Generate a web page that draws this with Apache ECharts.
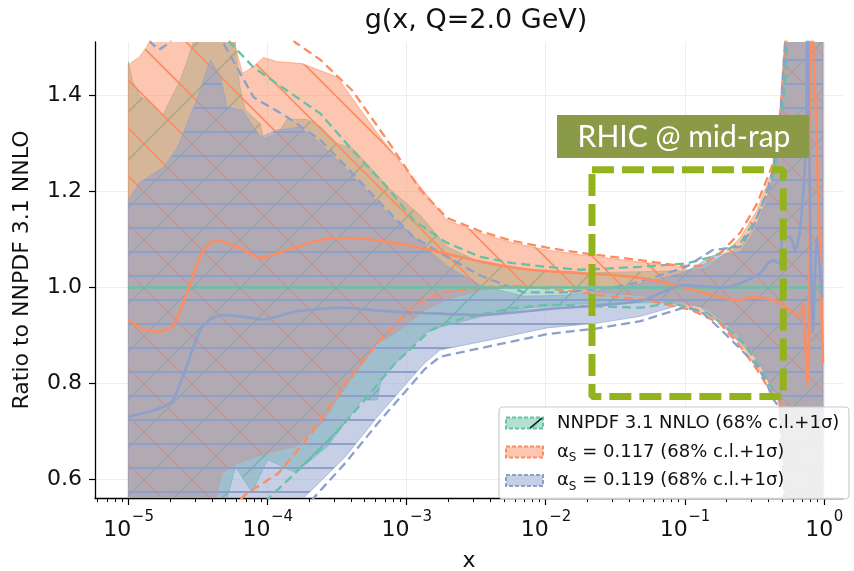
<!DOCTYPE html>
<html>
<head>
<meta charset="utf-8">
<script src="https://cdn.jsdelivr.net/npm/echarts@6.0.0/dist/echarts.min.js"></script>
<style>
  html, body { margin: 0; padding: 0; background: #fff; }
  #main { width: 854px; height: 571px; }
</style>
</head>
<body>
<div id="main"></div>
<script>
// every curve is a list of [log10(x), ratio]
// NNPDF 3.1 NNLO (green)
var nnpdfMid = [[-5, 1.0], [-0.007, 1.0]]
var nnpdfUp = [[-5.00, 1.47], [-4.97, 1.43], [-4.92, 1.40], [-4.87, 1.39], [-4.79, 1.37], [-4.75, 1.36], [-4.70, 1.39], [-4.63, 1.43], [-4.58, 1.47], [-4.51, 1.53], [-4.25, 1.56], [-4.20, 1.42], [-4.16, 1.37], [-4.05, 1.34], [-4.03, 1.31], [-3.93, 1.32], [-3.86, 1.35], [-3.72, 1.35], [-3.62, 1.335], [-3.50, 1.30], [-3.39, 1.29], [-3.26, 1.25], [-3.14, 1.21], [-2.90, 1.15], [-2.71, 1.085], [-2.47, 1.052], [-2.24, 1.04], [-1.99, 1.033], [-1.75, 1.03], [-1.32, 1.033], [-0.99, 1.035], [-0.80, 1.055], [-0.60, 1.085], [-0.48, 1.135], [-0.37, 1.22], [-0.32, 1.29], [-0.28, 1.45], [-0.25, 1.65], [-0.007, 1.65]]
var nnpdfLo = [[-5.00, 0.45], [-4.45, 0.50], [-4.30, 0.55], [-4.23, 0.627], [-4.11, 0.573], [-4.00, 0.642], [-3.80, 0.615], [-3.57, 0.669], [-3.32, 0.766], [-3.21, 0.766], [-3.18, 0.814], [-2.96, 0.876], [-2.87, 0.905], [-2.76, 0.918], [-2.47, 0.939], [-2.11, 0.958], [-1.75, 0.966], [-1.32, 0.968], [-0.99, 0.97], [-0.84, 0.955], [-0.70, 0.925], [-0.58, 0.89], [-0.48, 0.85], [-0.37, 0.79], [-0.32, 0.77], [-0.28, 0.62], [-0.25, 0.45], [-0.007, 0.45]]
var nnpdfUpSig = [[-4.35, 1.60], [-4.27, 1.51], [-4.10, 1.458], [-3.86, 1.41], [-3.62, 1.362], [-3.39, 1.286], [-3.14, 1.209], [-2.95, 1.14], [-2.71, 1.093], [-2.47, 1.064], [-2.24, 1.051], [-1.99, 1.043], [-1.75, 1.037], [-1.32, 1.043], [-0.99, 1.05], [-0.80, 1.064], [-0.60, 1.093], [-0.48, 1.147], [-0.37, 1.23], [-0.32, 1.30], [-0.28, 1.42], [-0.25, 1.62]]
var nnpdfLoSig = [[-4.20, 0.45], [-4.04, 0.548], [-3.80, 0.614], [-3.57, 0.677], [-3.32, 0.76], [-3.09, 0.84], [-2.87, 0.90], [-2.83, 0.911], [-2.60, 0.936], [-2.24, 0.957], [-1.99, 0.964], [-1.52, 0.96], [-1.32, 0.958], [-1.09, 0.968], [-0.84, 0.947], [-0.70, 0.918], [-0.58, 0.885], [-0.48, 0.843], [-0.37, 0.787], [-0.32, 0.766], [-0.28, 0.62], [-0.26, 0.45]]

// alpha_s = 0.117 (orange)
var as117Mid = [[-5.00, 0.932], [-4.90, 0.915], [-4.79, 0.908], [-4.68, 0.92], [-4.58, 0.988], [-4.47, 1.072], [-4.37, 1.099], [-4.22, 1.085], [-4.05, 1.062], [-3.86, 1.078], [-3.62, 1.099], [-3.39, 1.103], [-3.14, 1.095], [-2.90, 1.083], [-2.47, 1.054], [-2.11, 1.037], [-1.75, 1.03], [-1.32, 1.02], [-0.96, 0.997], [-0.75, 0.98], [-0.60, 0.974], [-0.51, 0.98], [-0.37, 0.974], [-0.32, 0.968], [-0.24, 0.953], [-0.17, 0.94], [-0.15, 0.968], [-0.13, 0.86], [-0.115, 0.793], [-0.105, 0.95], [-0.09, 1.60], [-0.007, 0.843]]
var as117Up = [[-5.00, 1.463], [-4.97, 1.47], [-4.92, 1.48], [-4.87, 1.50], [-4.82, 1.53], [-4.70, 1.60], [-4.30, 1.60], [-4.23, 1.50], [-4.18, 1.446], [-4.10, 1.46], [-4.03, 1.479], [-3.93, 1.47], [-3.75, 1.466], [-3.50, 1.438], [-3.21, 1.321], [-2.90, 1.209], [-2.71, 1.14], [-2.47, 1.113], [-2.24, 1.093], [-1.99, 1.078], [-1.75, 1.068], [-1.32, 1.053], [-1.04, 1.043], [-0.96, 1.035], [-0.85, 1.04], [-0.75, 1.06], [-0.60, 1.105], [-0.48, 1.161], [-0.37, 1.244], [-0.32, 1.334], [-0.28, 1.50], [-0.25, 1.65], [-0.007, 1.65]]
var as117Lo = [[-5.00, 0.45], [-4.42, 0.50], [-4.33, 0.614], [-4.21, 0.635], [-4.00, 0.656], [-3.80, 0.669], [-3.61, 0.718], [-3.42, 0.801], [-3.21, 0.884], [-3.08, 0.905], [-2.87, 0.953], [-2.71, 0.975], [-2.47, 0.995], [-2.24, 1.0], [-1.88, 1.0], [-1.63, 0.99], [-1.32, 0.983], [-0.99, 0.96], [-0.75, 0.93], [-0.60, 0.882], [-0.48, 0.835], [-0.37, 0.79], [-0.32, 0.77], [-0.28, 0.65], [-0.25, 0.45], [-0.007, 0.45]]
var as117UpSig = [[-4.00, 1.65], [-3.86, 1.53], [-3.80, 1.51], [-3.62, 1.474], [-3.39, 1.41], [-3.14, 1.307], [-2.90, 1.203], [-2.71, 1.145], [-2.47, 1.117], [-2.24, 1.097], [-1.99, 1.083], [-1.75, 1.072], [-1.32, 1.057], [-1.04, 1.045], [-0.89, 1.045], [-0.75, 1.07], [-0.60, 1.115], [-0.48, 1.175], [-0.37, 1.255], [-0.32, 1.34], [-0.28, 1.50], [-0.25, 1.65]]
var as117LoSig = [[-4.33, 0.45], [-4.21, 0.553], [-4.16, 0.569], [-3.92, 0.614], [-3.68, 0.698], [-3.44, 0.801], [-3.25, 0.87], [-3.19, 0.891], [-2.95, 0.96], [-2.87, 0.975], [-2.71, 0.991], [-2.47, 1.0], [-2.24, 1.004], [-1.99, 0.998], [-1.75, 0.99], [-1.56, 0.982], [-1.32, 0.976], [-0.96, 0.954], [-0.75, 0.926], [-0.60, 0.877], [-0.48, 0.829], [-0.39, 0.787], [-0.32, 0.766], [-0.29, 0.62], [-0.27, 0.45]]

// alpha_s = 0.119 (blue)
var as119Mid = [[-5.00, 0.731], [-4.85, 0.742], [-4.75, 0.752], [-4.68, 0.765], [-4.59, 0.829], [-4.47, 0.918], [-4.33, 0.943], [-4.16, 0.939], [-4.04, 0.933], [-3.80, 0.95], [-3.44, 0.958], [-3.21, 0.952], [-2.87, 0.947], [-2.47, 0.943], [-1.99, 0.955], [-1.32, 0.972], [-1.01, 1.005], [-0.73, 1.0], [-0.60, 1.009], [-0.46, 1.03], [-0.37, 1.057], [-0.32, 1.05], [-0.295, 1.105], [-0.244, 1.105], [-0.208, 1.078], [-0.172, 1.12], [-0.13, 1.30], [-0.12, 1.60], [-0.101, 1.19], [-0.079, 0.91], [-0.05, 1.105], [-0.014, 0.98]]
var as119Up = [[-5.00, 1.182], [-4.92, 1.218], [-4.75, 1.25], [-4.65, 1.29], [-4.51, 1.39], [-4.41, 1.474], [-4.34, 1.44], [-4.29, 1.375], [-4.18, 1.369], [-4.05, 1.313], [-3.93, 1.328], [-3.77, 1.334], [-3.62, 1.30], [-3.48, 1.259], [-3.34, 1.218], [-3.14, 1.155], [-2.90, 1.093], [-2.71, 1.045], [-2.47, 1.005], [-2.16, 0.982], [-1.85, 0.984], [-1.52, 0.997], [-1.32, 1.008], [-0.99, 1.033], [-0.80, 1.066], [-0.60, 1.075], [-0.51, 1.112], [-0.41, 1.18], [-0.37, 1.23], [-0.32, 1.31], [-0.28, 1.50], [-0.26, 1.65], [-0.007, 1.65]]
var as119Lo = [[-5.00, 0.45], [-3.90, 0.45], [-3.75, 0.56], [-3.68, 0.579], [-3.44, 0.648], [-3.21, 0.731], [-2.96, 0.814], [-2.87, 0.843], [-2.76, 0.87], [-2.40, 0.891], [-1.99, 0.916], [-1.63, 0.926], [-1.32, 0.94], [-1.01, 0.966], [-0.89, 0.96], [-0.75, 0.926], [-0.60, 0.885], [-0.48, 0.85], [-0.41, 0.815], [-0.37, 0.78], [-0.32, 0.76], [-0.28, 0.60], [-0.27, 0.45], [-0.007, 0.45]]
var as119UpSig = [[-4.92, 1.60], [-4.84, 1.51], [-4.78, 1.495], [-4.70, 1.51], [-4.62, 1.60], [-4.35, 1.60], [-4.32, 1.51], [-4.10, 1.396], [-3.86, 1.355], [-3.62, 1.307], [-3.39, 1.238], [-3.14, 1.161], [-2.95, 1.105], [-2.71, 1.064], [-2.47, 1.025], [-2.16, 0.99], [-1.85, 0.99], [-1.52, 1.0], [-1.32, 1.012], [-0.99, 1.043], [-0.80, 1.078], [-0.60, 1.085], [-0.51, 1.126], [-0.41, 1.196], [-0.37, 1.244], [-0.32, 1.328], [-0.28, 1.51], [-0.27, 1.62]]
var as119LoSig = [[-3.85, 0.45], [-3.72, 0.545], [-3.65, 0.568], [-3.44, 0.635], [-3.20, 0.72], [-2.96, 0.80], [-2.87, 0.83], [-2.76, 0.856], [-2.40, 0.878], [-1.99, 0.903], [-1.63, 0.915], [-1.32, 0.93], [-1.01, 0.958], [-0.89, 0.952], [-0.75, 0.915], [-0.60, 0.872], [-0.48, 0.837], [-0.41, 0.80], [-0.37, 0.77], [-0.32, 0.75], [-0.29, 0.60], [-0.28, 0.45]]

// RHIC mid-rapidity window (x range, ratio range)
var rhicX = [0.0215, 0.51]
var rhicY = [0.773, 1.245]

var majorExp = [-5, -4, -3, -2, -1, 0]
var minorMult = [2, 3, 4, 5, 6, 7, 8, 9]
var yTicks = [0.6, 0.8, 1.0, 1.2, 1.4]
var legendNames = ['NNPDF 3.1 NNLO (68% c.l.+1σ)', '0.117 (68% c.l.+1σ)', '0.119 (68% c.l.+1σ)']

var GREEN = '#66c2a5'
var ORANGE = '#fc8d62'
var BLUE = '#8da0cb'
var FONT = 'DejaVu Sans'
var INK = '#111111'

function rgba (hex, a) {
  var n = parseInt(hex.slice(1), 16)
  return 'rgba(' + (n >> 16) + ',' + ((n >> 8) & 255) + ',' + (n & 255) + ',' + a + ')'
}

// hatched fill like matplotlib's '/', '\' and '-'
function hatch (color, kind) {
  var h = kind === '-' ? 24 : 48
  var c = document.createElement('canvas')
  c.width = 48
  c.height = h
  var g = c.getContext('2d')
  g.fillStyle = rgba(color, 0.5)
  g.fillRect(0, 0, 48, h)
  g.strokeStyle = rgba(color, 1)
  g.lineWidth = kind === '-' ? 2 : 1.6
  g.beginPath()
  if (kind === '-') {
    g.moveTo(0, 12); g.lineTo(48, 12)
  } else {
    [-48, 0, 48].forEach(function (o) {
      if (kind === '/') { g.moveTo(o, 48); g.lineTo(o + 48, 0) } else { g.moveTo(o, 0); g.lineTo(o + 48, 48) }
    })
  }
  g.stroke()
  return {image: c, repeat: 'repeat'}
}

var fills = {g: hatch(GREEN, '/'), o: hatch(ORANGE, '\\'), b: hatch(BLUE, '-')}

function band (name, up, lo, color, fill) {
  var poly = up.concat(lo.slice().reverse())
  return {
    name: name,
    type: 'custom',
    coordinateSystem: 'cartesian2d',
    clip: true,
    silent: true,
    z: 2,
    data: [[-5, 1]],
    renderItem: function (params, api) {
      return {
        type: 'polygon',
        shape: {points: poly.map(function (p) { return api.coord(p) })},
        style: {fill: fill, stroke: rgba(color, 0.6), lineWidth: 1}
      }
    }
  }
}

function curve (data, color, dashed) {
  return {
    type: 'line',
    data: data,
    showSymbol: false,
    silent: true,
    smooth: dashed ? false : 0.25,
    z: dashed ? 3 : 4,
    lineStyle: {color: color, width: dashed ? 2.3 : 2.6, type: dashed ? [9, 5] : 'solid'}
  }
}

var minorTicks = []
for (var e = -6; e <= 0; e++) {
  minorMult.forEach(function (m) {
    var v = e + Math.log10(m)
    if (v > -5.24 && v < 0.137) minorTicks.push(v)
  })
}

var rx = rhicX.map(Math.log10)
var rhicBox = [[rx[0], rhicY[1]], [rx[1], rhicY[1]], [rx[1], rhicY[0]], [rx[0], rhicY[0]], [rx[0], rhicY[1]]]

var chart = echarts.init(document.getElementById('main'))

var option = {
  animation: false,
  grid: {left: 95, right: 11, top: 42, bottom: 73, outerBoundsMode: 'none', containLabel: false},
  xAxis: [{
    type: 'value',
    min: -5.24,
    max: 0.137,
    name: 'x',
    nameLocation: 'middle',
    nameGap: 52,
    nameTextStyle: {fontFamily: FONT, fontSize: 22, color: INK},
    axisLine: {onZero: false, lineStyle: {color: '#000', width: 1.3}},
    axisTick: {customValues: majorExp, length: 7, lineStyle: {color: '#000', width: 1.2}},
    axisLabel: {show: false, customValues: majorExp},
    splitLine: {show: true, lineStyle: {color: '#efefef', width: 1}}
  }, {
    type: 'value',
    min: -5.24,
    max: 0.137,
    position: 'bottom',
    axisLine: {show: false, onZero: false},
    axisTick: {customValues: minorTicks, length: 4, lineStyle: {color: '#000', width: 1}},
    axisLabel: {show: false},
    splitLine: {show: false}
  }],
  yAxis: {
    type: 'value',
    min: 0.562,
    max: 1.511,
    name: 'Ratio to NNPDF 3.1 NNLO',
    nameLocation: 'middle',
    nameGap: 62,
    nameTextStyle: {fontFamily: FONT, fontSize: 22, color: INK},
    axisLine: {show: true, onZero: false, lineStyle: {color: '#000', width: 1.3}},
    axisTick: {show: true, customValues: yTicks, length: 6, lineStyle: {color: '#000', width: 1.2}},
    axisLabel: {customValues: yTicks, margin: 13, fontFamily: FONT, fontSize: 22, color: INK, formatter: function (v) { return v.toFixed(1) }},
    splitLine: {show: true, lineStyle: {color: '#efefef', width: 1}}
  },
  series: [
    band('nnpdf', nnpdfUp, nnpdfLo, GREEN, fills.g),
    band('as117', as117Up, as117Lo, ORANGE, fills.o),
    band('as119', as119Up, as119Lo, BLUE, fills.b),
    curve(nnpdfUpSig, GREEN, true),
    curve(nnpdfLoSig, GREEN, true),
    curve(as117UpSig, ORANGE, true),
    curve(as117LoSig, ORANGE, true),
    curve(as119UpSig, BLUE, true),
    curve(as119LoSig, BLUE, true),
    curve(nnpdfMid, GREEN, false),
    curve(as117Mid, ORANGE, false),
    curve(as119Mid, BLUE, false),
    {
      type: 'line',
      data: rhicBox,
      showSymbol: false,
      silent: true,
      z: 10,
      lineStyle: {color: '#93b31d', width: 7, type: [22, 8]}
    }
  ]
}
chart.setOption(option)

// decade labels 10^n as real text, placed with the axis scale
var measure = document.createElement('canvas').getContext('2d')
function textWidth (s, size) {
  measure.font = size + 'px "' + FONT + '"'
  return measure.measureText(s).width
}
var axisY = chart.convertToPixel({yAxisIndex: 0}, 0.562)
var graphics = []
majorExp.forEach(function (n) {
  var px = chart.convertToPixel({xAxisIndex: 0}, n)
  var sup = n < 0 ? '−' + (-n) : String(n)
  var wb = textWidth('10', 22)
  var ws = textWidth(sup, 15)
  var left = px - (wb + ws) / 2
  graphics.push({type: 'text', x: left, y: axisY + 32, style: {text: '10', fontFamily: FONT, fontSize: 22, fill: INK, align: 'left', verticalAlign: 'middle'}})
  graphics.push({type: 'text', x: left + wb + 0.5, y: axisY + 19, style: {text: sup, fontFamily: FONT, fontSize: 15, fill: INK, align: 'left', verticalAlign: 'middle'}})
})

var legendRows = [423, 452, 480.5]
var legendColors = [GREEN, ORANGE, BLUE]
var legendFills = [fills.g, fills.o, fills.b]
graphics.push(
  {type: 'text', x: 476, y: 21, style: {text: 'g(x, Q=2.0 GeV)', fontFamily: FONT, fontSize: 27, fill: INK, align: 'center', verticalAlign: 'middle'}},
  {type: 'rect', shape: {x: 557, y: 115, width: 252, height: 43}, style: {fill: '#8a9a46'}, z: 50},
  {type: 'text', x: 684, y: 137, z: 51, style: {text: 'RHIC @ mid-rap', fontFamily: 'Lato', fontSize: 30, fill: '#ffffff', align: 'center', verticalAlign: 'middle'}},
  {type: 'rect', shape: {x: 499, y: 407, width: 350, height: 92, r: 4}, style: {fill: 'rgba(255,255,255,0.8)', stroke: '#cccccc', lineWidth: 1.2}, z: 60}
)
legendRows.forEach(function (y, i) {
  graphics.push({type: 'rect', shape: {x: 506, y: y - 5.5, width: 37, height: 11}, style: {fill: legendFills[i], stroke: legendColors[i], lineWidth: 2, lineDash: [4, 2]}, z: 61})
  var txt = i === 0 ? '{t|' + legendNames[0] + '}' : '{t|α}{sub|S}{t| = ' + legendNames[i] + '}'
  graphics.push({
    type: 'text', x: 557, y: y, z: 61,
    style: {
      text: txt, verticalAlign: 'middle',
      rich: {
        t: {fontFamily: FONT, fontSize: 18, fill: INK, lineHeight: 24},
        sub: {fontFamily: FONT, fontSize: 12, fill: INK, lineHeight: 24, verticalAlign: 'bottom'}
      }
    }
  })
})
graphics.push({type: 'line', shape: {x1: 530, y1: 428, x2: 542, y2: 418}, style: {stroke: INK, lineWidth: 1.5}, z: 62})

chart.setOption({graphic: graphics})
</script>
</body>
</html>
